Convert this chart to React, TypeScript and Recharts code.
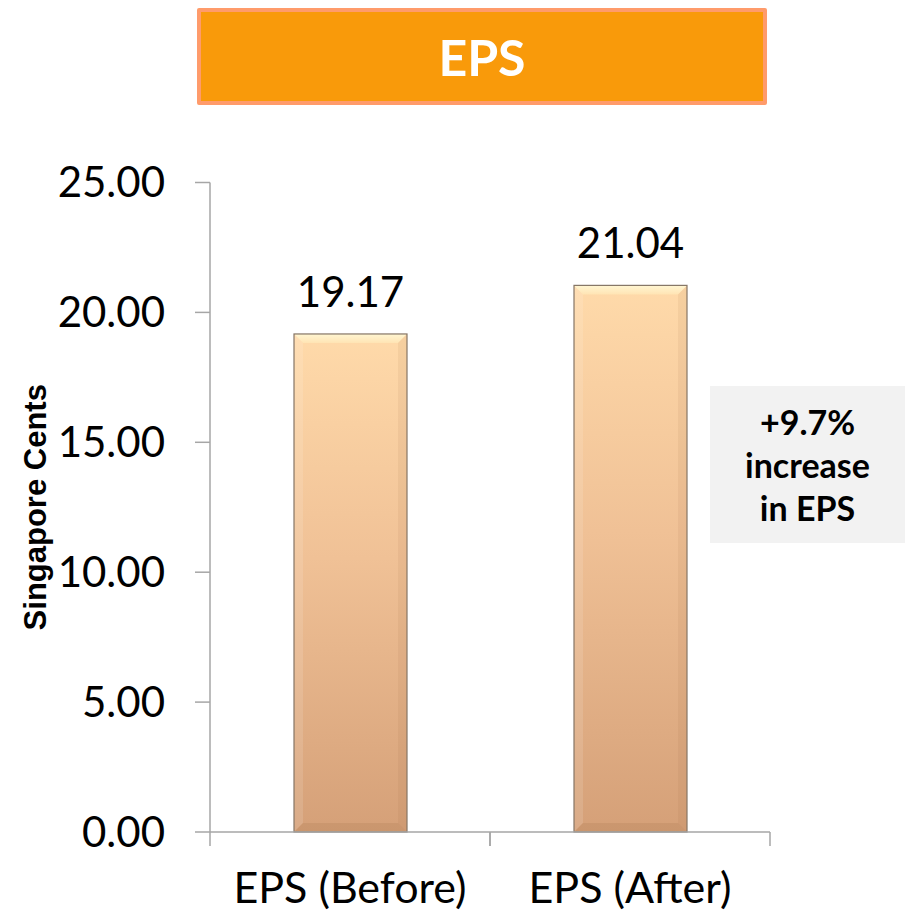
import { BarChart, Bar, XAxis, YAxis, LabelList } from 'recharts'

const categories = ['EPS (Before)', 'EPS (After)']
const epsValues = [19.17, 21.04]
const yTicks = [0, 5, 10, 15, 20, 25]

const data = categories.map((name, i) => ({ name, eps: epsValues[i] }))

const axisGrey = '#A6A6A6'
const font = 'Lato, "Open Sans", sans-serif'

function BevelBar(props: any) {
  const { x, y, width, height } = props
  if (!height || height <= 0) return null
  const b = 9
  return (
    <g>
      <rect x={x} y={y} width={width} height={height} fill="url(#barGrad)" />
      <polygon
        points={`${x},${y} ${x + width},${y} ${x + width - b},${y + b} ${x + b},${y + b}`}
        fill="url(#bevelTop)"
      />
      <polygon
        points={`${x},${y} ${x + b},${y + b} ${x + b},${y + height - b} ${x},${y + height}`}
        fill="#ffffff"
        opacity={0.12}
      />
      <polygon
        points={`${x + width},${y} ${x + width - b},${y + b} ${x + width - b},${y + height - b} ${x + width},${y + height}`}
        fill="#8a5a30"
        opacity={0.08}
      />
      <polygon
        points={`${x},${y + height} ${x + b},${y + height - b} ${x + width - b},${y + height - b} ${x + width},${y + height}`}
        fill="#9a6a45"
        opacity={0.18}
      />
      <rect x={x} y={y} width={width} height={height} fill="none" stroke="#857565" strokeWidth={1.2} />
    </g>
  )
}

function CategoryTick(props: any) {
  const { x, y, payload } = props
  const half = payload && payload.offset ? payload.offset : 140
  return (
    <g>
      <line x1={x - half} y1={y - 40} x2={x - half} y2={y - 26} stroke={axisGrey} strokeWidth={1.5} />
      <line x1={x + half} y1={y - 40} x2={x + half} y2={y - 26} stroke={axisGrey} strokeWidth={1.5} />
      <text x={x} y={y} dy="0.72em" textAnchor="middle" fill="#000" fontSize={43} fontFamily={font}>
        {payload.value}
      </text>
    </g>
  )
}

function AxisTitle(props: any) {
  const vb = props.viewBox || { x: 0, y: 182, width: 210, height: 650 }
  const cx = vb.x + 35
  const cy = vb.y + vb.height / 2
  return (
    <text
      x={cx}
      y={cy}
      transform={`rotate(-90, ${cx}, ${cy})`}
      textAnchor="middle"
      dominantBaseline="central"
      fontSize={31}
      fontWeight="bold"
      fontFamily='"Liberation Sans", Arial, sans-serif'
      fill="#000"
    >
      Singapore Cents
    </text>
  )
}

export default function App() {
  return (
    <div style={{ position: 'absolute', left: 0, top: 0, width: 908, height: 916, background: '#fff' }}>
      <BarChart
        width={908}
        height={916}
        data={data}
        margin={{ top: 182.5, right: 138, left: 0, bottom: 0 }}
        barSize={113}
      >
        <defs>
          <linearGradient id="barGrad" x1="0" y1="0" x2="0" y2="1">
            <stop offset="0%" stopColor="#FFDAAA" />
            <stop offset="45%" stopColor="#F0C196" />
            <stop offset="100%" stopColor="#D5A078" />
          </linearGradient>
          <linearGradient id="bevelTop" x1="0" y1="0" x2="0" y2="1">
            <stop offset="0%" stopColor="#FFF6D2" />
            <stop offset="100%" stopColor="#FFE4B4" />
          </linearGradient>
        </defs>
        <XAxis
          dataKey="name"
          height={84}
          axisLine={{ stroke: axisGrey, strokeWidth: 1.5 }}
          tickLine={false}
          tickSize={14}
          tickMargin={26}
          tick={<CategoryTick />}
          interval={0}
        />
        <YAxis
          width={210}
          domain={[0, 25]}
          ticks={yTicks}
          interval={0}
          tickFormatter={(v: number) => v.toFixed(2)}
          axisLine={{ stroke: axisGrey, strokeWidth: 1.5 }}
          tickLine={{ stroke: axisGrey, strokeWidth: 1.5 }}
          tickSize={15}
          tickMargin={30}
          tick={{ fill: '#000', fontSize: 42, fontFamily: font }}
          label={<AxisTitle />}
        />
        <Bar dataKey="eps" shape={<BevelBar />} isAnimationActive={false}>
          <LabelList
            dataKey="eps"
            position="top"
            offset={27}
            formatter={(v: any) => Number(v).toFixed(2)}
            style={{ fill: '#000', fontSize: 42, fontFamily: font }}
          />
        </Bar>
      </BarChart>

      <div
        style={{
          position: 'absolute',
          left: 197,
          top: 8,
          width: 570,
          height: 97,
          boxSizing: 'border-box',
          background: '#F99A0A',
          border: '4px solid #FF9B6B',
          borderRadius: 2,
          display: 'flex',
          alignItems: 'center',
          justifyContent: 'center',
          color: '#fff',
          fontFamily: font,
          fontWeight: 'bold',
          fontSize: 50,
        }}
      >
        EPS
      </div>

      <div
        style={{
          position: 'absolute',
          left: 710,
          top: 386,
          width: 195,
          height: 157,
          background: '#F2F2F2',
          display: 'flex',
          flexDirection: 'column',
          alignItems: 'center',
          justifyContent: 'center',
          color: '#000',
          fontFamily: font,
          fontWeight: 'bold',
          fontSize: 34,
          lineHeight: '43px',
          textAlign: 'center',
        }}
      >
        <div>+9.7%</div>
        <div>increase</div>
        <div>in EPS</div>
      </div>
    </div>
  )
}
